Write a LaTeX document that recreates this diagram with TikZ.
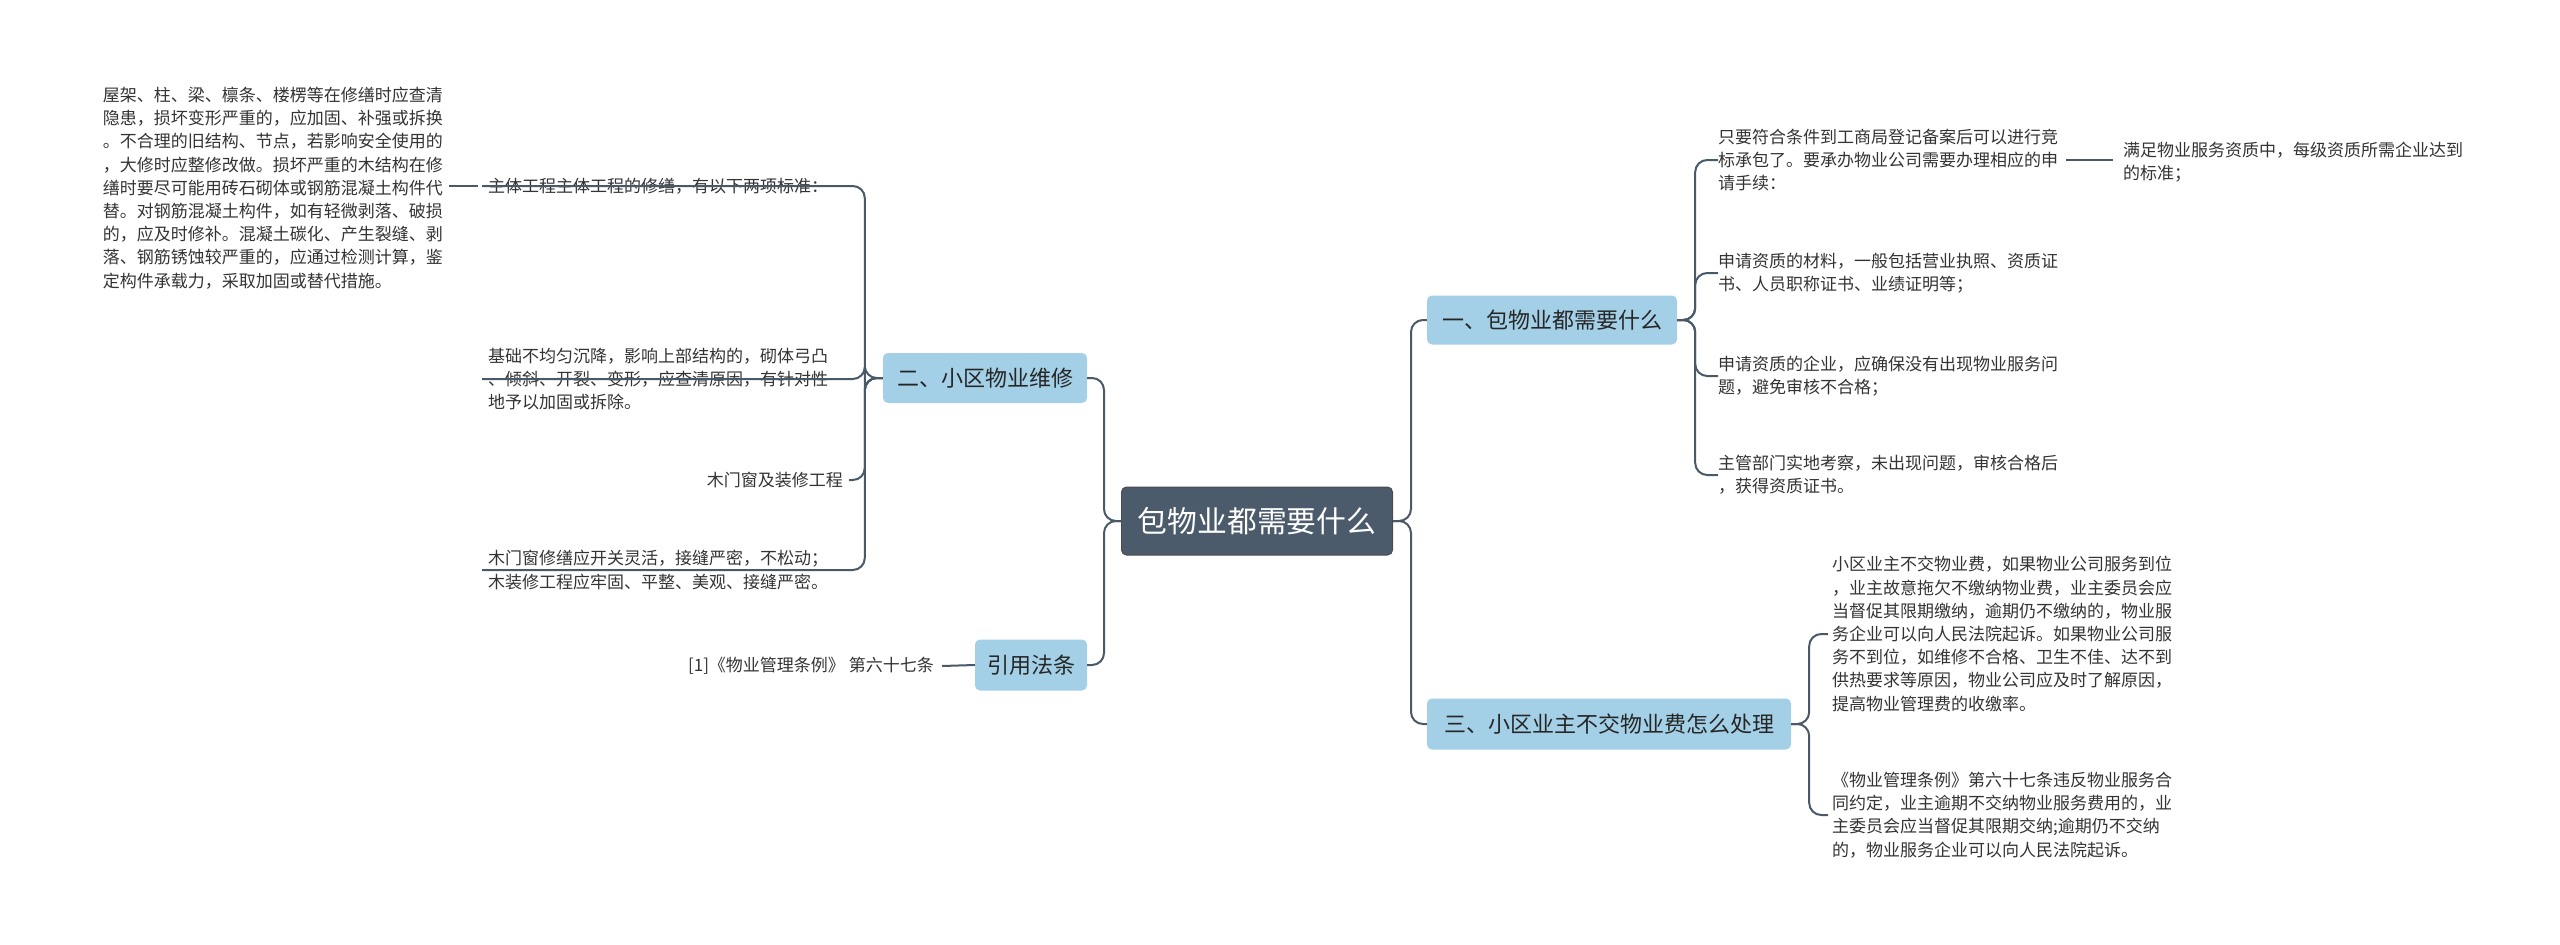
\documentclass[tikz,border=0pt]{standalone}
\usepackage{fontspec}
\setmainfont{Noto Sans CJK SC}
\begin{document}
\begin{tikzpicture}[x=1pt,y=-1pt,
  txt/.style={inner sep=0pt,text=black!80,font={\fontsize{17}{23.2}\selectfont},align=left},
  lone/.style={fill=l1blue,rounded corners=5pt,text=black!85,font={\fontsize{22}{26}\selectfont},inner sep=0pt},
  conn/.style={draw=linec,line width=2pt,rounded corners=12pt}]
\definecolor{l1blue}{HTML}{A3D0E6}
\definecolor{linec}{HTML}{4A5968}
\definecolor{cfill}{HTML}{4C5B6B}
\useasboundingbox (0,0) rectangle (2560,945);
\node[fill=cfill,draw=black!70,line width=1pt,rounded corners=5pt,text=white,font={\fontsize{29.8}{32}\selectfont},minimum width=271pt,minimum height=68pt,inner sep=0pt] (c) at (1257,521) {包物业都需要什么};
\node[lone,minimum width=250pt,minimum height=49pt] (r1) at (1552,320) {一、包物业都需要什么};
\node[lone,minimum width=364pt,minimum height=51pt] (r3) at (1609,724) {三、小区业主不交物业费怎么处理};
\node[lone,minimum width=204pt,minimum height=50pt] (l2) at (985,378) {二、小区物业维修};
\node[lone,minimum width=112pt,minimum height=51pt] (l4) at (1031,665) {引用法条};
% right children
\node[txt,anchor=west] (a1) at (1718,160) {只要符合条件到工商局登记备案后可以进行竞\\标承包了。要承办物业公司需要办理相应的申\\请手续：};
\node[txt,anchor=west] (a1b) at (2123,162) {满足物业服务资质中，每级资质所需企业达到\\的标准；};
\node[txt,anchor=west] (a2) at (1718,273) {申请资质的材料，一般包括营业执照、资质证\\书、人员职称证书、业绩证明等；};
\node[txt,anchor=west] (a3) at (1718,376) {申请资质的企业，应确保没有出现物业服务问\\题，避免审核不合格；};
\node[txt,anchor=west] (a4) at (1718,475) {主管部门实地考察，未出现问题，审核合格后\\，获得资质证书。};
\node[txt,anchor=west] (c1) at (1832,634) {小区业主不交物业费，如果物业公司服务到位\\，业主故意拖欠不缴纳物业费，业主委员会应\\当督促其限期缴纳，逾期仍不缴纳的，物业服\\务企业可以向人民法院起诉。如果物业公司服\\务不到位，如维修不合格、卫生不佳、达不到\\供热要求等原因，物业公司应及时了解原因，\\提高物业管理费的收缴率。};
\node[txt,anchor=west] (c2) at (1832,815) {《物业管理条例》第六十七条违反物业服务合\\同约定，业主逾期不交纳物业服务费用的，业\\主委员会应当督促其限期交纳;逾期仍不交纳\\的，物业服务企业可以向人民法院起诉。};
% left children
\node[txt,anchor=west] (b1) at (488,186) {主体工程主体工程的修缮，有以下两项标准：};
\node[txt,anchor=east] (b1a) at (443,188) {屋架、柱、梁、檩条、楼楞等在修缮时应查清\\隐患，损坏变形严重的，应加固、补强或拆换\\。不合理的旧结构、节点，若影响安全使用的\\，大修时应整修改做。损坏严重的木结构在修\\缮时要尽可能用砖石砌体或钢筋混凝土构件代\\替。对钢筋混凝土构件，如有轻微剥落、破损\\的，应及时修补。混凝土碳化、产生裂缝、剥\\落、钢筋锈蚀较严重的，应通过检测计算，鉴\\定构件承载力，采取加固或替代措施。};
\node[txt,anchor=west] (b2) at (488,379) {基础不均匀沉降，影响上部结构的，砌体弓凸\\、倾斜、开裂、变形，应查清原因，有针对性\\地予以加固或拆除。};
\node[txt,anchor=east] (b3) at (843,480) {木门窗及装修工程};
\node[txt,anchor=west] (b4) at (488,570) {木门窗修缮应开关灵活，接缝严密，不松动；\\木装修工程应牢固、平整、美观、接缝严密。};
\node[txt,anchor=east] (d1) at (934,666) {[1]《物业管理条例》 第六十七条};
% connectors
\draw[conn] (c.east) -- ++(18,0) |- (r1.west);
\draw[conn] (c.east) -- ++(18,0) |- (r3.west);
\draw[conn] (c.west) -- ++(-17,0) |- (l2.east);
\draw[conn] (c.west) -- ++(-17,0) |- (l4.east);
\foreach \n in {a1,a2,a3,a4} \draw[conn] (r1.east) -- ++(18,0) |- (\n.west);
\foreach \n in {c1,c2} \draw[conn] (r3.east) -- ++(18,0) |- ([xshift=-4pt]\n.west);
\foreach \n in {b1,b2,b4} \draw[conn] (l2.west) -- ++(-18,0) |- ([xshift=-6pt]\n.west);
\draw[conn] (l2.west) -- ++(-18,0) |- ([xshift=6pt]b3.east);
\draw[conn] ([xshift=8pt]a1.east) -- ([xshift=-10pt]a1b.west|-a1.east);
\draw[conn] ([xshift=-10pt]b1.west) -- ([xshift=6pt]b1a.east|-b1.west);
\draw[conn] ([xshift=8pt]d1.east) -- (l4.west);
\end{tikzpicture}
\end{document}
